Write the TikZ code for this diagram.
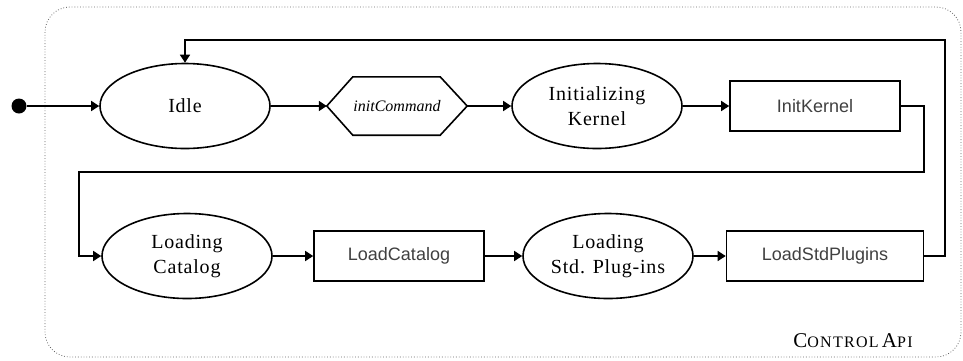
\documentclass[tikz,border=0pt]{standalone}
\usepackage{fontspec}
\setmainfont{Liberation Serif}
\setsansfont{Liberation Sans}
\newfontfamily\apifont[LetterSpace=8]{Liberation Serif}
\newfontfamily\statefont[LetterSpace=4]{Liberation Serif}
\usetikzlibrary{arrows.meta,shapes.geometric}
\begin{document}
\begin{tikzpicture}[x=1pt,y=-1pt,
  state/.style={ellipse,draw,line width=1.6pt,minimum width=170pt,minimum height=85pt,inner sep=0pt,align=center,font=\statefont\fontsize{20}{25}\selectfont},
  actbox/.style={rectangle,draw,line width=1.6pt,minimum width=170pt,minimum height=50pt,inner sep=0pt,font=\sffamily\fontsize{18}{20}\selectfont,text=black!75},
  evt/.style={rectangle,minimum width=140pt,minimum height=58pt,inner sep=0pt,font=\itshape\fontsize{16}{18}\selectfont},
  hexline/.style={line width=1.6pt,line join=miter},
  arr/.style={line width=1.6pt,-{Triangle[length=8pt,width=10pt]}}]
\useasboundingbox (0,0) rectangle (963,360);
\draw[dotted,line width=0.8pt,black!60,rounded corners=25pt] (45,7) rectangle (961,357);
\node[circle,fill=black,minimum size=15pt,inner sep=0pt] (start) at (19,106) {};
\node[state] (idle) at (185,106) {Idle};
\node[evt] (cmd) at (397,106) {initCommand};
\draw[hexline] (cmd.west) -- ([xshift=26pt]cmd.north west) -- ([xshift=-27pt]cmd.north east) -- (cmd.east) -- ([xshift=-27pt]cmd.south east) -- ([xshift=26pt]cmd.south west) -- cycle;
\node[state] (ik) at (597,106) {Initializing\\Kernel};
\node[actbox] (ikbox) at (815,106) {InitKernel};
\node[state] (lc) at (187,256) {Loading\\Catalog};
\node[actbox] (lcbox) at (399,256) {LoadCatalog};
\node[state] (lsp) at (608,256) {Loading\\Std. Plug-ins};
\node[actbox,minimum width=197pt] (lspbox) at (825,256) {LoadStdPlugins};
\node[anchor=center] (api) at (853,341) {\apifont{\fontsize{21}{21}\selectfont C}{\fontsize{16}{16}\selectfont ONTROL} {\fontsize{21}{21}\selectfont A}{\fontsize{16}{16}\selectfont PI}};
\draw[arr] (start) -- (idle.west);
\draw[arr] (idle.east) -- (cmd.west);
\draw[arr] (cmd.east) -- (ik.west);
\draw[arr] (ik.east) -- (ikbox.west);
\draw[arr] (ikbox.east) -- ++(23,0) |- (79,172) |- (lc.west);
\draw[arr] (lc.east) -- (lcbox.west);
\draw[arr] (lcbox.east) -- (lsp.west);
\draw[arr] (lsp.east) -- (lspbox.west);
\draw[arr] (lspbox.east) -| (945,40) -| (idle.north);
\end{tikzpicture}
\end{document}
